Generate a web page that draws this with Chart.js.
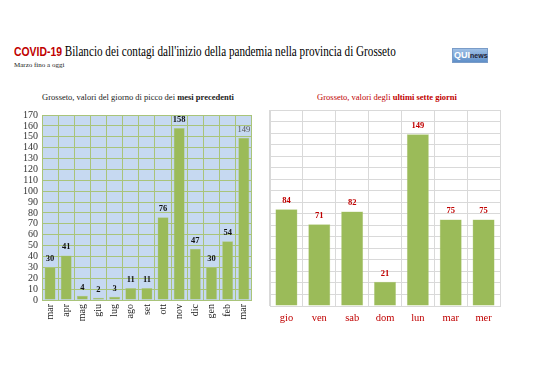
<!DOCTYPE html>
<html><head><meta charset="utf-8">
<script src="https://cdn.jsdelivr.net/npm/chart.js@4/dist/chart.umd.min.js"></script>
<style>
body{margin:0;background:#fff;width:538px;height:380px;position:relative;overflow:hidden;font-family:"Liberation Serif",serif;}
.abs{position:absolute;white-space:nowrap;}
#t1{left:14px;top:43px;font-size:14.5px;color:#000;transform:scaleX(0.77);transform-origin:left top;}
#t1 b{font-family:"Liberation Sans",sans-serif;color:#c00000;font-size:13.5px;}
#t2{left:14px;top:61px;font-size:7px;color:#222;}
#logo{left:452px;top:48px;width:34px;height:13px;background:linear-gradient(#9fc0e6,#5f8fc8);border:1px solid #7a9cc8;font-family:"Liberation Sans",sans-serif;font-size:7px;line-height:13px;}
#logo span.q{color:#fff;font-weight:bold;font-size:9px;margin-left:1px}
#logo span.n{color:#223;font-weight:bold;}
#lt{left:10px;width:256px;top:92px;text-align:center;font-size:8.5px;color:#222;}
#rt{left:270px;width:234px;top:92px;text-align:center;font-size:8.5px;color:#c00000;}
canvas{position:absolute;}
</style></head><body>
<div class="abs" id="t1"><b>COVID-19</b> Bilancio dei contagi dall'inizio della pandemia nella provincia di Grosseto</div>
<div class="abs" id="t2">Marzo fino a oggi</div>
<div class="abs" id="logo"><span class="q">QUI</span><span class="n">news</span></div>
<div class="abs" id="lt">Grosseto, valori del giorno di picco dei <b>mesi precedenti</b></div>
<div class="abs" id="rt">Grosseto, valori degli <b>ultimi sette giorni</b></div>
<div style="position:absolute;left:10px;top:105px;width:250px;height:240px"><canvas id="c1" width="250" height="240"></canvas></div>
<div style="position:absolute;left:265px;top:105px;width:240px;height:240px"><canvas id="c2" width="240" height="240"></canvas></div>
<script>
const monthLabels = ["mar","apr","mag","giu","lug","ago","set","ott","nov","dic","gen","feb","mar"];
const monthValues = [30,41,4,2,3,11,11,76,158,47,30,54,149];
const dayLabels = ["gio","ven","sab","dom","lun","mar","mer"];
const dayValues = [84,71,82,21,149,75,75];
const yMax = 170, yStep = 10;

const serif = '"Liberation Serif", serif';

const bgPlugin = {
  id:'bg',
  beforeDraw(chart, args, opts){
    if(!opts.color) return;
    const a = chart.chartArea, ctx = chart.ctx;
    ctx.save(); ctx.fillStyle = opts.color; ctx.fillRect(a.left,a.top,a.right-a.left,a.bottom-a.top); ctx.restore();
  }
};
const labelPlugin = {
  id:'vlabels',
  afterDatasetsDraw(chart, args, opts){
    const ctx = chart.ctx;
    const meta = chart.getDatasetMeta(0);
    const data = chart.data.datasets[0].data;
    ctx.save();
    ctx.textAlign='center'; ctx.textBaseline='bottom';
    meta.data.forEach((bar,i)=>{
      const special = opts.lastPlain && i===data.length-1;
      ctx.font = (special?'':'bold ') + opts.size + 'px ' + serif;
      ctx.fillStyle = special ? '#555' : opts.color;
      ctx.fillText(String(data[i]), bar.x, bar.y - 4);
    });
    ctx.restore();
  }
};

new Chart(document.getElementById('c1'), {
  type:'bar',
  data:{labels:monthLabels, datasets:[{data:monthValues, backgroundColor:'#9bbb59', borderColor:'#b8cf86', borderWidth:0.5, categoryPercentage:1, barPercentage:0.68}]},
  plugins:[bgPlugin, labelPlugin],
  options:{
    responsive:false, animation:false,
    layout:{padding:{top:7,right:6,left:0,bottom:0}},
    plugins:{legend:{display:false}, tooltip:{enabled:false}, bg:{color:'#c6d9f1'}, vlabels:{size:8.5,color:'#111',lastPlain:true}},
    scales:{
      x:{grid:{color:'#a9c47a',lineWidth:1,offset:true,drawTicks:false}, border:{color:'#a9c47a'},
         ticks:{maxRotation:90,minRotation:90,autoSkip:false,padding:4,color:'#222',font:{family:serif,size:10}},
         afterFit(s){s.height=45;}},
      y:{min:0,max:yMax, grid:{color:'#a9c47a',drawTicks:false}, border:{color:'#a9c47a'},
         ticks:{stepSize:yStep,autoSkip:false,padding:4,color:'#333',font:{family:serif,size:10}},
         afterFit(s){s.width=32;}}
    }
  }
});

new Chart(document.getElementById('c2'), {
  type:'bar',
  data:{labels:dayLabels, datasets:[{data:dayValues, backgroundColor:'#9bbb59', borderColor:'#b8cf86', borderWidth:0.5, categoryPercentage:1, barPercentage:0.67}]},
  plugins:[labelPlugin],
  options:{
    responsive:false, animation:false,
    layout:{padding:{top:5,right:5,left:5,bottom:0}},
    plugins:{legend:{display:false}, tooltip:{enabled:false}, vlabels:{size:8.5,color:'#c00000',lastPlain:false}},
    scales:{
      x:{grid:{color:'#d9d9d9',offset:true,drawTicks:false}, border:{color:'#d9d9d9'},
         ticks:{padding:6,color:'#c00000',font:{family:serif,size:10.5}},
         afterFit(s){s.height=39;}},
      y:{min:0,max:yMax, grid:{color:'#d9d9d9',drawTicks:false}, border:{color:'#d9d9d9'},
         ticks:{stepSize:yStep,autoSkip:false,display:false},
         afterFit(s){s.width=0;}}
    }
  }
});
</script>
</body></html>
